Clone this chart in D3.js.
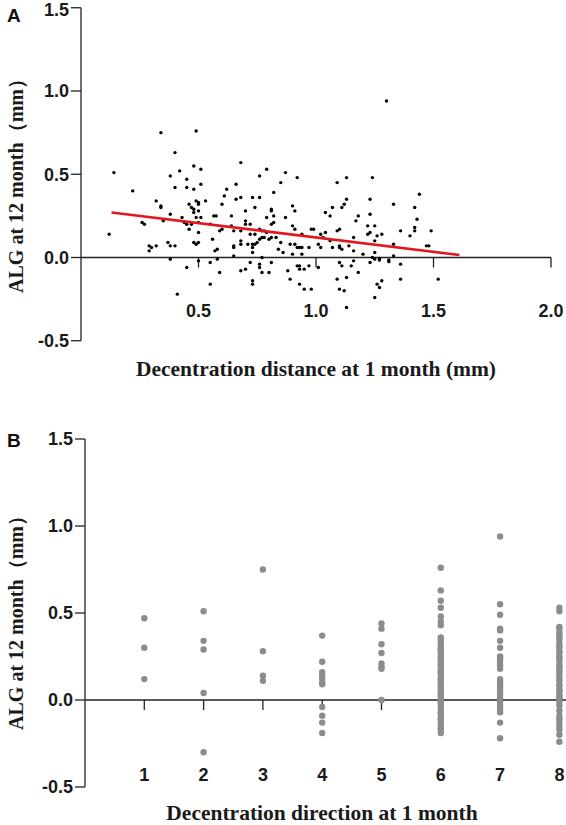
<!DOCTYPE html>
<html>
<head>
<meta charset="utf-8">
<script src="https://cdn.jsdelivr.net/npm/d3@7"></script>
<style>
  body { margin: 0; background: #fff; }
  svg { display: block; }
  .tick-label { font-family: "Liberation Sans", Arial, sans-serif; font-weight: bold; font-size: 18px; fill: #1a1a1a; }
  .axis-title { font-family: "Liberation Serif", "Times New Roman", serif; font-weight: bold; font-size: 21.5px; fill: #1a1a1a; }
  .y-title { font-size: 20px; }
  .panel-letter { font-family: "Liberation Sans", Arial, sans-serif; font-weight: bold; font-size: 19px; fill: #111; }
</style>
</head>
<body>
<div id="chart"></div>
<script>
// Panel A: decentration distance (mm) vs axial length growth (mm)
const distance = [
  0.34, 0.49, 0.40, 0.14, 0.48, 0.51, 0.42, 0.38, 0.45, 0.51, 0.40, 0.45, 0.48, 0.22, 0.61, 0.32, 0.49, 0.50, 0.50, 0.53,
  0.34, 0.34, 0.46, 0.60, 0.47, 0.48, 0.48, 0.50, 0.38, 0.565, 0.575, 0.43, 0.49, 0.51, 0.35, 0.26, 0.27, 0.44, 0.45, 0.47,
  0.50, 0.55, 0.46, 0.12, 0.50, 0.60, 0.59, 0.56, 0.48, 0.49, 0.50, 0.37, 0.38, 0.29, 0.30, 0.29, 0.32, 0.40, 0.58, 0.57,
  0.38, 0.50, 0.55, 0.58, 0.45, 0.59, 0.55, 0.41,
  0.68, 0.79, 0.87, 0.76, 0.92, 1.13, 0.85, 1.09, 0.66, 0.62, 0.82, 0.68, 0.66, 0.73, 0.76, 1.13, 0.74, 1.12, 1.11, 0.90,
  1.07, 0.70, 0.81, 0.81, 0.91, 1.04, 1.06, 0.64, 0.79, 0.82, 0.87, 0.70, 0.70, 0.72, 0.82, 0.81, 0.64, 0.90, 0.91, 0.76,
  0.77, 0.78, 0.79, 0.98, 0.99, 1.10, 1.09, 0.65, 0.68, 0.74, 0.72, 0.81, 0.80, 0.83, 1.02, 1.03, 1.04, 0.94, 1.06, 0.65,
  0.65, 0.68, 0.68, 0.71, 0.73, 0.74, 0.75, 0.76, 0.77, 0.78, 0.85, 0.89, 0.91, 0.92, 0.93, 0.94, 0.97, 1.02, 1.01, 1.07,
  1.10, 1.11, 1.10, 0.73, 0.73, 0.84, 0.86, 0.65, 0.90, 0.94, 0.77, 0.72, 0.70, 0.68, 0.76, 0.76, 0.77, 0.80, 0.81, 0.88,
  0.92, 0.93, 0.93, 0.95, 0.97, 1.01, 1.10, 1.11, 0.89, 0.73, 0.73, 0.93, 1.09, 0.95, 0.98, 1.10, 1.12, 1.13,
  1.30, 1.24, 1.23, 1.44, 1.33, 1.42, 1.23, 1.18, 1.17, 1.43, 1.22, 1.25, 1.42, 1.42, 1.22, 1.23, 1.26, 1.28, 1.36, 1.40,
  1.49, 1.16, 1.25, 1.33, 1.47, 1.48, 1.16, 1.20, 1.25, 1.24, 1.25, 1.27, 1.27, 1.31, 1.31, 1.33, 1.16, 1.23, 1.36, 1.15,
  1.18, 1.13, 1.36, 1.52, 1.28, 1.26, 1.27, 1.25, 1.14
];
const growthA = [
  0.75, 0.76, 0.63, 0.51, 0.55, 0.53, 0.52, 0.49, 0.47, 0.44, 0.42, 0.42, 0.41, 0.40, 0.37, 0.34, 0.34, 0.33, 0.32, 0.34,
  0.31, 0.30, 0.32, 0.32, 0.30, 0.29, 0.27, 0.28, 0.26, 0.25, 0.25, 0.24, 0.24, 0.24, 0.22, 0.21, 0.20, 0.21, 0.20, 0.20,
  0.21, 0.20, 0.17, 0.14, 0.15, 0.17, 0.16, 0.11, 0.09, 0.08, 0.09, 0.09, 0.07, 0.07, 0.06, 0.04, 0.07, 0.07, 0.05, 0.04,
  -0.01, -0.02, -0.03, -0.01, -0.06, -0.09, -0.16, -0.22,
  0.57, 0.53, 0.51, 0.49, 0.48, 0.48, 0.45, 0.45, 0.44, 0.41, 0.39, 0.36, 0.35, 0.36, 0.36, 0.35, 0.30, 0.32, 0.30, 0.31,
  0.30, 0.28, 0.29, 0.28, 0.28, 0.27, 0.25, 0.25, 0.24, 0.25, 0.24, 0.22, 0.20, 0.20, 0.21, 0.20, 0.19, 0.19, 0.17, 0.17,
  0.16, 0.16, 0.15, 0.17, 0.17, 0.17, 0.16, 0.16, 0.16, 0.14, 0.14, 0.12, 0.11, 0.12, 0.14, 0.12, 0.15, 0.14, 0.10, 0.07,
  0.06, 0.10, 0.08, 0.08, 0.08, 0.08, 0.09, 0.11, 0.12, 0.12, 0.09, 0.08, 0.08, 0.06, 0.06, 0.06, 0.06, 0.06, 0.08, 0.06,
  0.06, 0.05, 0.07, 0.06, 0.03, 0.05, 0.03, 0.01, 0.02, 0.02, 0.00, -0.03, -0.07, -0.08, -0.04, -0.06, -0.09, -0.09, -0.03, -0.08,
  -0.05, -0.05, -0.07, -0.07, -0.05, -0.06, -0.03, -0.05, -0.13, -0.14, -0.16, -0.16, -0.13, -0.19, -0.19, -0.19, -0.20, -0.30,
  0.94, 0.48, 0.35, 0.38, 0.32, 0.30, 0.26, 0.25, 0.22, 0.23, 0.19, 0.19, 0.18, 0.16, 0.14, 0.15, 0.13, 0.14, 0.16, 0.13,
  0.16, 0.12, 0.10, 0.08, 0.07, 0.07, 0.04, 0.02, 0.03, 0.00, -0.01, -0.015, -0.005, -0.015, -0.025, 0.01, -0.02, -0.03, -0.04, -0.05,
  -0.09, -0.12, -0.13, -0.13, -0.14, -0.16, -0.18, -0.24, 0.07
];
// regression line end points
const fitX = [0.13, 1.61];
const fitY = [0.27, 0.015];

// Panel B: decentration direction (1-8) vs axial length growth (mm)
const directions = [1, 2, 3, 4, 5, 6, 7, 8];
const dir1 = [0.47, 0.30, 0.12];
const dir2 = [0.51, 0.34, 0.29, 0.04, -0.30];
const dir3 = [0.75, 0.28, 0.14, 0.11];
const dir4 = [0.37, 0.22, 0.16, 0.14, 0.12, 0.10, 0.09, -0.04, -0.09, -0.13, -0.19];
const dir5 = [0.44, 0.41, 0.32, 0.27, 0.21, 0.19, 0.18, 0.00];
const dir6 = [0.76, 0.63, 0.57, 0.53, 0.48, 0.45, 0.43, 0.36, 0.35, 0.33, 0.32, 0.30, 0.29, 0.28, 0.27, 0.25,
  0.24, 0.23, 0.21, 0.20, 0.19, 0.17, 0.16, 0.15, 0.13, 0.12, 0.11, 0.09, 0.08, 0.07, 0.05, 0.04, 0.03, 0.02,
  0.00, -0.01, -0.02, -0.04, -0.05, -0.07, -0.08, -0.10, -0.11, -0.13, -0.14, -0.16, -0.17, -0.19];
const dir7 = [0.94, 0.55, 0.49, 0.41, 0.40, 0.34, 0.30, 0.25, 0.24, 0.22, 0.20, 0.18, 0.12, 0.105, 0.09, 0.07,
  0.05, 0.03, 0.01, -0.01, -0.03, -0.05, -0.07, -0.13, -0.22];
const dir8 = [0.53, 0.51, 0.42, 0.41, 0.39, 0.38, 0.36, 0.35, 0.33, 0.31, 0.30, 0.28, 0.27, 0.25, 0.24, 0.22,
  0.20, 0.19, 0.17, 0.16, 0.14, 0.12, 0.11, 0.09, 0.08, 0.06, 0.05, 0.03, 0.02, 0.01, -0.01, -0.03, -0.06,
  -0.09, -0.11, -0.13, -0.15, -0.17, -0.20, -0.24];

const yTicks = [-0.5, 0.0, 0.5, 1.0, 1.5];
const xTicksA = [0.5, 1.0, 1.5, 2.0];
const fmt = v => d3.format('.1f')(v).replace('\u2212', '-');

const W = 566, H = 825;
const svg = d3.select('#chart').append('svg')
  .attr('width', W)
  .attr('height', H);

const axisColor = '#222';

// draw a y axis with ticks on the left and labels
function drawYAxis(g, y, x0) {
  g.append('line')
    .attr('x1', x0).attr('x2', x0)
    .attr('y1', y(1.5)).attr('y2', y(-0.5))
    .attr('stroke', axisColor).attr('stroke-width', 1.3);
  yTicks.forEach(t => {
    g.append('line')
      .attr('x1', x0 - 10).attr('x2', x0)
      .attr('y1', y(t)).attr('y2', y(t))
      .attr('stroke', axisColor).attr('stroke-width', 1.3);
    g.append('text')
      .attr('class', 'tick-label')
      .attr('x', x0 - 12)
      .attr('y', Math.max(y(t), 10)) // keep the top label inside the page
      .attr('dy', '0.36em')
      .attr('text-anchor', 'end')
      .text(fmt(t));
  });
}

// ---------- Panel A ----------
const gA = svg.append('g');
const xA = d3.scaleLinear().domain([0, 2]).range([81, 551]);
const yA = d3.scaleLinear().domain([-0.5, 1.5]).range([340.75, 7.75]);

drawYAxis(gA, yA, 81);

gA.append('line')
  .attr('x1', xA(0)).attr('x2', xA(2))
  .attr('y1', yA(0)).attr('y2', yA(0))
  .attr('stroke', axisColor).attr('stroke-width', 1.3);

xTicksA.forEach(t => {
  gA.append('line')
    .attr('x1', xA(t)).attr('x2', xA(t))
    .attr('y1', yA(0)).attr('y2', yA(0) + 10)
    .attr('stroke', axisColor).attr('stroke-width', 1.3);
  gA.append('text')
    .attr('class', 'tick-label')
    .attr('x', xA(t))
    .attr('y', 311)
    .attr('dy', '0.36em')
    .attr('text-anchor', 'middle')
    .text(fmt(t));
});

gA.selectAll('circle.pt')
  .data(distance.map((d, i) => [d, growthA[i]]))
  .enter()
  .append('circle')
  .attr('class', 'pt')
  .attr('cx', d => xA(d[0]))
  .attr('cy', d => yA(d[1]))
  .attr('r', 1.7)
  .attr('fill', '#000');

gA.append('line')
  .attr('x1', xA(fitX[0])).attr('y1', yA(fitY[0]))
  .attr('x2', xA(fitX[1])).attr('y2', yA(fitY[1]))
  .attr('stroke', '#e3161d')
  .attr('stroke-width', 2.6);

gA.append('text')
  .attr('class', 'axis-title y-title')
  .attr('transform', 'translate(16,181) rotate(-90)')
  .attr('text-anchor', 'middle')
  .attr('dy', '0.35em')
  .text('ALG at 12 month（mm）');

gA.append('text')
  .attr('class', 'axis-title')
  .attr('x', 316).attr('y', 368)
  .attr('dy', '0.35em')
  .attr('text-anchor', 'middle')
  .text('Decentration distance at 1 month (mm)');

gA.append('text')
  .attr('class', 'panel-letter')
  .attr('x', 7).attr('y', 22)
  .text('A');

// ---------- Panel B ----------
const gB = svg.append('g');
const xB = d3.scaleLinear().domain([0, 8]).range([85, 559.4]);
const yB = d3.scaleLinear().domain([-0.5, 1.5]).range([787, 439]);

drawYAxis(gB, yB, 85);

gB.append('line')
  .attr('x1', xB(0)).attr('x2', 566)
  .attr('y1', yB(0)).attr('y2', yB(0))
  .attr('stroke', axisColor).attr('stroke-width', 1.3);

directions.forEach(t => {
  gB.append('line')
    .attr('x1', xB(t)).attr('x2', xB(t))
    .attr('y1', yB(0)).attr('y2', yB(0) + 10)
    .attr('stroke', axisColor).attr('stroke-width', 1.3);
  gB.append('text')
    .attr('class', 'tick-label')
    .attr('x', xB(t))
    .attr('y', 775)
    .attr('dy', '0.36em')
    .attr('text-anchor', 'middle')
    .text(t);
});

const groups = [dir1, dir2, dir3, dir4, dir5, dir6, dir7, dir8];
const pointsB = [];
groups.forEach((vals, i) => vals.forEach(v => pointsB.push([directions[i], v])));

gB.selectAll('circle.pt')
  .data(pointsB)
  .enter()
  .append('circle')
  .attr('class', 'pt')
  .attr('cx', d => xB(d[0]))
  .attr('cy', d => yB(d[1]))
  .attr('r', 3.2)
  .attr('fill', '#8c8c8c');

gB.append('text')
  .attr('class', 'axis-title y-title')
  .attr('transform', 'translate(16,618) rotate(-90)')
  .attr('text-anchor', 'middle')
  .attr('dy', '0.35em')
  .text('ALG at 12 month（mm）');

gB.append('text')
  .attr('class', 'axis-title')
  .attr('x', 322).attr('y', 812)
  .attr('dy', '0.35em')
  .attr('text-anchor', 'middle')
  .text('Decentration direction at 1 month');

gB.append('text')
  .attr('class', 'panel-letter')
  .attr('x', 7).attr('y', 447)
  .text('B');
</script>
</body>
</html>
